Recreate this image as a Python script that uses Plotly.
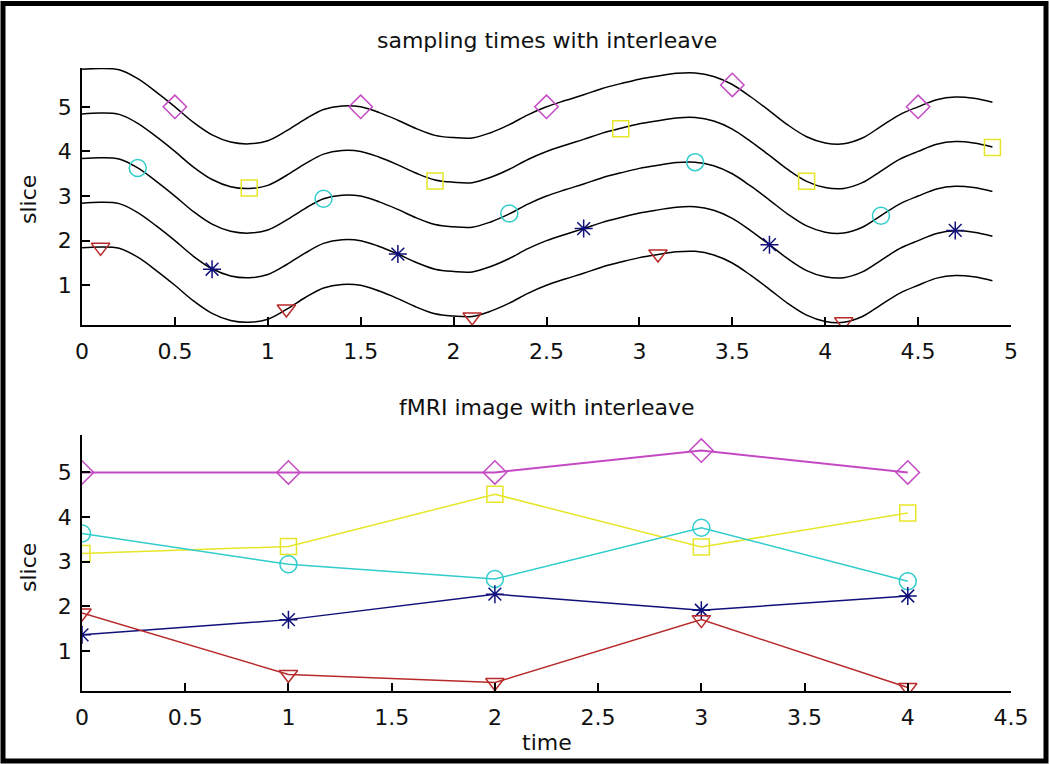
import plotly.graph_objects as go
from plotly.subplots import make_subplots

# time grid of the continuous slice curves (top panel)
t_curve = [0.0, 0.1, 0.2, 0.3, 0.4, 0.5, 0.6, 0.7, 0.8, 0.9,
           1.0, 1.1, 1.2, 1.3, 1.4, 1.5, 1.6, 1.7, 1.8, 1.9,
           2.0, 2.1, 2.2, 2.3, 2.4, 2.5, 2.6, 2.7, 2.8, 2.9,
           3.0, 3.1, 3.2, 3.3, 3.4, 3.5, 3.6, 3.7, 3.8, 3.9,
           4.0, 4.1, 4.2, 4.3, 4.4, 4.5, 4.6, 4.7, 4.8, 4.9]
# displacement of each slice around its nominal position
wave = [0.84, 0.86, 0.83, 0.63, 0.33, 0.00, -0.35, -0.63, -0.79, -0.83,
        -0.76, -0.54, -0.28, -0.06, 0.02, 0.00, -0.13, -0.30, -0.49, -0.64,
        -0.69, -0.70, -0.58, -0.40, -0.18, 0.00, 0.14, 0.27, 0.41, 0.52,
        0.62, 0.69, 0.75, 0.76, 0.68, 0.50, 0.22, -0.09, -0.41, -0.67,
        -0.81, -0.83, -0.70, -0.44, -0.18, 0.00, 0.16, 0.22, 0.19, 0.10]
slices = [1, 2, 3, 4, 5]

# sampling times per slice (interleaved order 1,3,5,2,4)
t_tri = [0.1, 1.1, 2.1, 3.1, 4.1]
t_circ = [0.3, 1.3, 2.3, 3.3, 4.3]
t_dia = [0.5, 1.5, 2.5, 3.5, 4.5]
t_star = [0.7, 1.7, 2.7, 3.7, 4.7]
t_sq = [0.9, 1.9, 2.9, 3.9, 4.9]

y_tri = [1.85, 0.47, 0.29, 1.70, 0.18]
y_star = [1.36, 1.70, 2.27, 1.91, 2.23]
y_circ = [3.63, 2.94, 2.61, 3.76, 2.56]
y_sq = [3.18, 3.34, 4.51, 3.33, 4.09]
y_dia = [5.00, 5.00, 5.00, 5.49, 5.00]

image_idx = [0, 1, 2, 3, 4]

FONT = "DejaVu Sans"

fig = make_subplots(rows=2, cols=1, vertical_spacing=0.0)

for s in slices:
    fig.add_trace(go.Scatter(x=t_curve, y=[s + w for w in wave], mode="lines",
                             line=dict(color="black", width=1.5, shape="spline"),
                             showlegend=False), row=1, col=1)

series = [
    (t_dia, y_dia, "diamond-open", "#c44ac4", 18, 2.0),
    (t_sq, y_sq, "square-open", "#e6e628", 16, 1.5),
    (t_circ, y_circ, "circle-open", "#30cccc", 17, 1.5),
    (t_star, y_star, "asterisk-open", "#10107a", 15, 1.5),
    (t_tri, y_tri, "triangle-down-open", "#b82a2a", 16, 1.5),
]

for tt, yy, sym, col, size, lw in series:
    fig.add_trace(go.Scatter(x=tt, y=yy, mode="markers",
                             marker=dict(symbol=sym, color=col, size=size,
                                         line=dict(color=col, width=1.5)),
                             showlegend=False), row=1, col=1)
    fig.add_trace(go.Scatter(x=image_idx, y=yy, mode="lines+markers",
                             line=dict(color=col, width=lw),
                             marker=dict(symbol=sym, color=col, size=size,
                                         line=dict(color=col, width=1.5)),
                             showlegend=False), row=2, col=1)

axis_style = dict(showline=True, linecolor="black", linewidth=1.5,
                  ticks="inside", ticklen=8, tickwidth=1.5, tickcolor="black",
                  showgrid=False, zeroline=False, mirror=False, automargin=False,
                  tickfont=dict(family=FONT, size=22, color="#111111"))

fig.update_xaxes(**axis_style, ticklabelstandoff=6, tickangle=0)
fig.update_yaxes(**axis_style, ticklabelstandoff=4, tickvals=[1, 2, 3, 4, 5])
fig.update_xaxes(range=[0, 5], dtick=0.5, row=1, col=1)
fig.update_xaxes(range=[0, 4.5], dtick=0.5, row=2, col=1)
fig.update_yaxes(range=[0.11, 5.87], domain=[0.5875, 1.0], row=1, col=1)
fig.update_yaxes(range=[0.10, 5.84], domain=[0.0, 0.411], row=2, col=1)

ann_font = dict(family=FONT, size=22, color="#111111")
fig.update_layout(
    width=1050, height=764,
    margin=dict(l=82, r=39, t=68, b=73),
    paper_bgcolor="white", plot_bgcolor="white",
    annotations=[
        dict(text="sampling times with interleave", xref="paper", yref="paper",
             x=0.5, y=(691 - 41) / 623, xanchor="center", yanchor="middle",
             showarrow=False, font=ann_font),
        dict(text="fMRI image with interleave", xref="paper", yref="paper",
             x=0.5, y=(691 - 407) / 623, xanchor="center", yanchor="middle",
             showarrow=False, font=ann_font),
        dict(text="slice", xref="paper", yref="paper", textangle=-90,
             x=(28 - 82) / 929, y=(691 - 200) / 623, xanchor="center", yanchor="middle",
             showarrow=False, font=ann_font),
        dict(text="slice", xref="paper", yref="paper", textangle=-90,
             x=(28 - 82) / 929, y=(691 - 568) / 623, xanchor="center", yanchor="middle",
             showarrow=False, font=ann_font),
        dict(text="time", xref="paper", yref="paper",
             x=0.5, y=(691 - 742) / 623, xanchor="center", yanchor="middle",
             showarrow=False, font=ann_font),
    ],
    shapes=[dict(type="rect", xref="paper", yref="paper",
                 x0=(3 - 82) / 929, x1=(1046 - 82) / 929,
                 y0=(691 - 761) / 623, y1=(691 - 3.5) / 623,
                 line=dict(color="black", width=5))],
)

# page has a default body margin; drop it so the figure sits at the window corner
fig.write_html("out.html",
               config={"displayModeBar": False},
               post_script="document.body.style.margin='0';"
                           "document.body.style.overflow='hidden';")
